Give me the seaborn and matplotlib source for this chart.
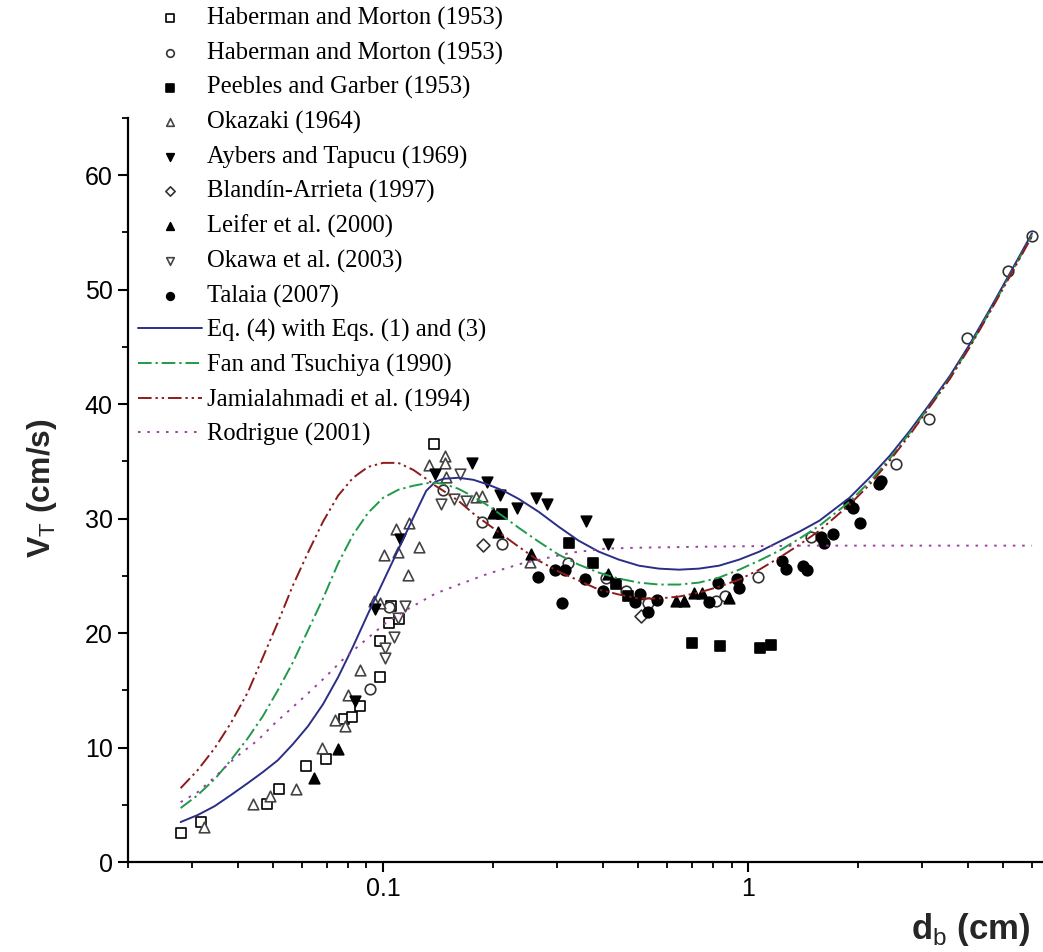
import numpy as np
import pandas as pd
import matplotlib
matplotlib.use("Agg")
import matplotlib.pyplot as plt
import seaborn as sns
from matplotlib.ticker import FixedLocator, FixedFormatter, LogLocator, NullFormatter, MultipleLocator

# ---------------- data (d_b in cm, V_T in cm/s) ----------------
hm_sq_x = [0.0279, 0.0316, 0.048, 0.0518, 0.0614, 0.0697, 0.0781, 0.0822, 0.0865,
           0.0982, 0.0982, 0.1039, 0.105, 0.1107, 0.138]
hm_sq_y = [2.53, 3.49, 5.06, 6.36, 8.37, 8.98, 12.47, 12.64, 13.6,
           16.2, 19.27, 20.84, 22.4, 21.27, 36.5]

hm_ci_x = [0.092, 0.1035, 0.146, 0.187, 0.212, 0.32, 0.409, 0.462, 0.531,
           0.817, 0.863, 1.065, 1.486, 2.545, 3.12, 3.97, 5.15, 5.99]
hm_ci_y = [15.1, 22.3, 32.5, 29.7, 27.8, 26.1, 24.8, 23.65, 22.6,
           22.8, 23.2, 24.9, 28.4, 34.8, 38.7, 45.8, 51.6, 54.7]

pg_x = [0.211, 0.322, 0.375, 0.435, 0.469, 0.703, 0.838, 1.079, 1.154]
pg_y = [30.4, 27.9, 26.1, 24.3, 23.2, 19.15, 18.86, 18.7, 19.0]

ok_x = [0.0324, 0.0440, 0.0489, 0.0577, 0.0680, 0.0738, 0.0787, 0.0802, 0.0865,
        0.0945, 0.0982, 0.1007, 0.110, 0.1256, 0.1172, 0.1086, 0.1178, 0.1338,
        0.148, 0.148, 0.149, 0.180, 0.187, 0.252]
ok_y = [3.05, 5.06, 5.75, 6.36, 9.94, 12.38, 11.86, 14.56, 16.74,
        22.84, 22.67, 26.85, 27.1, 27.55, 25.1, 29.1, 29.6, 34.7,
        35.5, 34.9, 33.6, 31.9, 32.0, 26.2]

at_x = [0.0838, 0.0951, 0.1114, 0.139, 0.1746, 0.193, 0.2096, 0.232, 0.262,
        0.2805, 0.359, 0.4125]
at_y = [14.04, 22.1, 28.2, 33.9, 34.9, 33.2, 32.1, 30.95, 31.8,
        31.3, 29.8, 27.8]

ba_x = [0.1874, 0.507]
ba_y = [27.7, 21.5]

le_x = [0.0645, 0.0752, 0.2005, 0.206, 0.2546, 0.4125, 0.633, 0.667, 0.711, 0.749, 0.887]
le_y = [7.38, 9.91, 30.45, 28.8, 26.9, 25.2, 22.8, 22.8, 23.5, 23.5, 23.1]

ow_x = [0.1149, 0.110, 0.1072, 0.1013, 0.1013, 0.1443, 0.1567, 0.169, 0.1627]
ow_y = [22.4, 21.3, 19.7, 18.66, 17.8, 31.3, 31.7, 31.5, 33.9]

ta_x = [0.265, 0.309, 0.296, 0.314, 0.358, 0.4004, 0.489, 0.505, 0.532, 0.564,
        0.782, 0.824, 0.931, 0.941, 1.238, 1.269, 1.416, 1.446, 1.584, 1.618,
        1.712, 1.894, 1.934, 2.018, 2.28, 2.314]
ta_y = [24.9, 22.6, 25.5, 25.5, 24.7, 23.65, 22.7, 23.4, 21.8, 22.9,
        22.7, 24.4, 24.7, 23.95, 26.3, 25.6, 25.9, 25.5, 28.4, 27.9,
        28.65, 31.27, 30.9, 29.6, 33.0, 33.3]

# model curves, read at common diameters
curve_x = [0.02787, 0.03103, 0.03455, 0.03824, 0.04257, 0.04680, 0.05146, 0.05657,
           0.06223, 0.06842, 0.07522, 0.08272, 0.09095, 0.1000, 0.1100, 0.1209,
           0.1312, 0.1390, 0.1462, 0.1607, 0.1768, 0.1943, 0.2137, 0.2349, 0.2666,
           0.3026, 0.3433, 0.3898, 0.4420, 0.5017, 0.5694, 0.6462, 0.7333, 0.8324,
           0.9447, 1.072, 1.217, 1.381, 1.567, 1.894, 2.149, 2.440, 2.769, 3.143,
           3.566, 4.047, 4.594, 5.212, 5.991]
eq4_y = [3.49, 4.10, 4.88, 5.84, 6.89, 7.85, 8.89, 10.29,
         11.86, 13.78, 16.13, 18.83, 21.71, 24.50, 27.29, 30.08,
         32.43, 33.22, 33.48, 33.57, 33.39, 32.96, 32.43, 31.73, 30.60,
         29.29, 28.07, 27.11, 26.42, 25.89, 25.63, 25.54, 25.63, 25.89,
         26.42, 27.11, 27.99, 28.86, 29.82, 31.82, 33.57, 35.48, 37.66, 40.02,
         42.46, 45.25, 48.30, 51.44, 54.93]
ft_y = [4.71, 5.84, 7.24, 8.89, 10.81, 12.73, 15.00, 17.44,
        20.23, 23.02, 26.07, 28.60, 30.51, 31.82, 32.52, 32.87,
        33.09, 33.13, 33.04, 32.61, 31.91, 31.12, 30.17, 29.21, 27.99,
        26.85, 25.98, 25.28, 24.76, 24.41, 24.24, 24.24, 24.41, 24.85,
        25.54, 26.33, 27.20, 28.25, 29.38, 31.47, 33.22, 35.22, 37.49, 39.84,
        42.28, 45.07, 48.13, 51.26, 54.75]
ja_y = [6.45, 8.02, 9.94, 12.12, 14.82, 17.87, 20.92, 24.15,
        27.03, 29.73, 32.00, 33.57, 34.52, 34.87, 34.87, 34.26,
        33.48, 32.87, 32.43, 31.56, 30.43, 29.47, 28.51, 27.55, 26.33,
        25.37, 24.59, 23.80, 23.37, 23.02, 23.02, 23.19, 23.54, 24.06,
        24.67, 25.54, 26.59, 27.72, 28.95, 31.21, 32.96, 35.05, 37.31, 39.76,
        42.20, 44.99, 48.04, 51.18, 54.67]

ro_x = [0.02787, 0.03103, 0.03455, 0.03922, 0.04535, 0.05050, 0.05729, 0.06223,
        0.06929, 0.07862, 0.08923, 0.1013, 0.1149, 0.1390, 0.1637, 0.1943, 0.2393,
        0.2839, 0.3284, 0.4073, 0.5017, 0.7667, 1.443, 5.991]
ro_y = [5.23, 6.10, 7.41, 9.07, 10.64, 12.12, 13.69, 14.73,
        16.13, 17.87, 19.36, 20.84, 21.97, 23.45, 24.32, 25.20, 26.07,
        26.59, 27.03, 27.38, 27.46, 27.55, 27.64, 27.64]

x_ticks = [0.1, 1]
x_ticklabels = ["0.1", "1"]
y_ticks = [0, 10, 20, 30, 40, 50, 60]

# ---------------- figure ----------------
sns.set_theme(style="ticks")
plt.rcParams["font.family"] = ["Liberation Sans", "DejaVu Sans"]
plt.rcParams["mathtext.fontset"] = "custom"
plt.rcParams["mathtext.rm"] = "Liberation Sans"
plt.rcParams["mathtext.bf"] = "Liberation Sans:bold"

fig = plt.figure(figsize=(10.43, 9.52), dpi=100)
ax = fig.add_axes([128 / 1043, 90 / 952, (1043 - 128) / 1043, (862 - 118) / 952])
ax.set_xscale("log")

ms = 58
scat = [
    (hm_sq_x, hm_sq_y, "s", "white", "black", "Haberman and Morton (1953)"),
    (hm_ci_x, hm_ci_y, "o", "white", "#333333", "Haberman and Morton (1953)"),
    (pg_x, pg_y, "s", "black", "black", "Peebles and Garber (1953)"),
    (ok_x, ok_y, "^", "white", "#444444", "Okazaki (1964)"),
    (at_x, at_y, "v", "black", "black", "Aybers and Tapucu (1969)"),
    (ba_x, ba_y, "D", "white", "#333333", "Blandín-Arrieta (1997)"),
    (le_x, le_y, "^", "black", "black", "Leifer et al. (2000)"),
    (ow_x, ow_y, "v", "white", "#444444", "Okawa et al. (2003)"),
    (ta_x, ta_y, "o", "black", "black", "Talaia (2007)"),
]
for xs, ys, mk, fc, ec, lab in scat:
    size = ms * 0.75 if mk == "D" else ms
    sns.scatterplot(x=xs, y=ys, marker=mk, s=size, color=fc, edgecolor=ec,
                    linewidth=1.2, label=lab, ax=ax, zorder=3)

lines = [
    (curve_x, eq4_y, "#2a2e86", "-", "Eq. (4) with Eqs. (1) and (3)"),
    (curve_x, ft_y, "#1f9a4a", (0, (7, 2, 1.2, 2)), "Fan and Tsuchiya (1990)"),
    (curve_x, ja_y, "#8e1b1b", (0, (7, 2, 1.2, 2, 1.2, 2)), "Jamialahmadi et al. (1994)"),
    (ro_x, ro_y, "#9b3fa3", (0, (1.3, 3.5)), "Rodrigue (2001)"),
]
for xs, ys, col, ls, lab in lines:
    sns.lineplot(x=xs, y=ys, sort=False, estimator=None, color=col, linestyle=ls,
                 linewidth=1.4, label=lab, ax=ax, zorder=4)

ax.set_xlim(0.02, 6.42)
ax.set_ylim(0, 65)
ax.xaxis.set_major_locator(FixedLocator(x_ticks))
ax.xaxis.set_major_formatter(FixedFormatter(x_ticklabels))
ax.xaxis.set_minor_locator(LogLocator(base=10, subs=np.arange(2, 10)))
ax.xaxis.set_minor_formatter(NullFormatter())
ax.yaxis.set_major_locator(FixedLocator(y_ticks))
ax.yaxis.set_minor_locator(MultipleLocator(5))

for sp in ["top", "right"]:
    ax.spines[sp].set_visible(False)
for sp in ["left", "bottom"]:
    ax.spines[sp].set_linewidth(1.6)
    ax.spines[sp].set_color("black")
ax.tick_params(which="major", direction="out", length=7, width=1.5, labelsize=18,
               pad=4, colors="black")
ax.tick_params(which="minor", direction="out", length=4.5, width=1.3, colors="black")
ax.grid(False)

fig.text(42 / 1043, 1 - 488 / 952, r"$\mathbf{V}_{\mathrm{T}}$ (cm/s)", rotation=90,
         ha="center", va="center", fontsize=23, fontweight="bold")
fig.text(1030 / 1043, 1 - 930 / 952, r"$\mathbf{d}_{\mathrm{b}}$ (cm)",
         ha="right", va="center", fontsize=25, fontweight="bold")

leg = ax.legend(loc="upper left", bbox_to_anchor=(138 / 1043, 1 - 7 / 952),
                bbox_transform=fig.transFigure, frameon=False, borderpad=0,
                borderaxespad=0, handlelength=2.6, handletextpad=0.2,
                labelspacing=0.47, markerscale=0.72,
                prop={"family": "Liberation Serif", "size": 17.7})
for t in leg.get_texts():
    t.set_color("black")

fig.savefig("out.png", dpi=100, facecolor="white")
